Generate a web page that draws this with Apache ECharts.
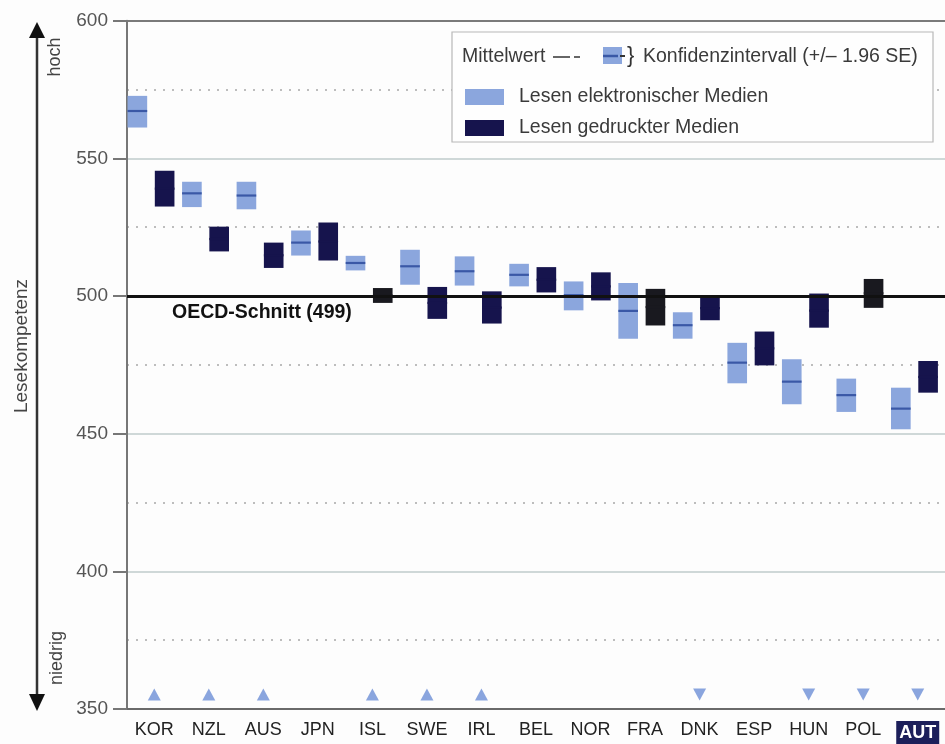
<!DOCTYPE html>
<html>
<head>
<meta charset="utf-8">
<script src="https://cdn.jsdelivr.net/npm/echarts@6/dist/echarts.min.js"></script>
<style>
html,body{margin:0;padding:0;background:#fdfdfd;}
#chart{width:945px;height:744px;}
</style>
</head>
<body>
<div id="chart"></div>
<script>
// ---- data ----
const categories = ['KOR','NZL','AUS','JPN','ISL','SWE','IRL','BEL','NOR','FRA','DNK','ESP','HUN','POL','AUT'];
// Lesen elektronischer Medien: mean and 95% CI bounds
const elecMean = [567.2,537.3,536.5,519.4,512.0,510.8,509.0,507.7,500.3,494.6,489.4,475.8,468.9,464.0,459.1];
const elecLow  = [561.2,532.3,531.5,514.7,509.3,504.1,503.8,503.5,494.8,484.5,484.5,468.3,460.7,457.9,451.6];
const elecHigh = [572.7,541.5,541.5,523.8,514.6,516.8,514.4,511.7,505.3,504.7,494.1,483.0,477.0,470.0,466.7];
// Lesen gedruckter Medien: mean and 95% CI bounds
const printMean = [539.0,520.7,514.8,519.8,500.2,497.5,495.8,505.9,503.5,496.0,495.6,481.0,494.7,501.0,470.6];
const printLow  = [532.5,516.2,510.2,512.9,497.5,491.7,490.0,501.3,498.4,489.3,491.2,474.8,488.5,495.7,464.9];
const printHigh = [545.5,525.2,519.4,526.7,502.9,503.3,501.7,510.5,508.6,502.6,500.1,487.1,500.9,506.2,476.4];
// significance markers: 'up' = electronic significantly above print, 'down' = below
const signif = ['up','up','up','','up','up','up','','','','down','','down','down','down'];
const oecdMean = 499;
const yTicks = [350,400,450,500,550,600];

// ---- styles ----
const FONT = 'Liberation Sans, Arial, Helvetica, sans-serif';
const LIGHT = '#8ba6dd';
const LIGHT_MEAN = '#3a58a6';
const DARK = '#16144d';
const BLACKISH = '#19191f';
const blackPrint = {ISL:true, FRA:true, POL:true};

function boxRender(kind) {
  return function (params, api) {
    const idx = api.value(0);
    const pLo = api.coord([idx, api.value(1)]);
    const pHi = api.coord([idx, api.value(2)]);
    const pMean = api.coord([idx, api.value(3)]);
    const band = api.size([1, 0])[0];
    const w = band * 0.36;
    const x0 = pLo[0] - band / 2 + (kind === 'elec' ? band * 0.01 : band * 0.51);
    const children = [];
    let fill = LIGHT;
    if (kind === 'print') fill = blackPrint[categories[idx]] ? BLACKISH : DARK;
    children.push({
      type: 'rect',
      shape: {x: x0, y: pHi[1], width: w, height: pLo[1] - pHi[1]},
      style: {fill: fill}
    });
    children.push({
      type: 'line',
      shape: {x1: x0, y1: pMean[1], x2: x0 + w, y2: pMean[1]},
      style: {stroke: kind === 'elec' ? LIGHT_MEAN : fill, lineWidth: 2.2}
    });
    return {type: 'group', children: children};
  };
}

const elecData = categories.map((c, i) => [i, elecLow[i], elecHigh[i], elecMean[i]]);
const printData = categories.map((c, i) => [i, printLow[i], printHigh[i], printMean[i]]);
const markerLevel = 355.3;
const markerData = [];
signif.forEach((s, i) => {
  if (s) markerData.push({value: [i, markerLevel], symbolRotate: s === 'down' ? 180 : 0});
});

const chart = echarts.init(document.getElementById('chart'), null, {renderer: 'canvas'});
chart.setOption({
  backgroundColor: '#fdfdfd',
  animation: false,
  textStyle: {fontFamily: FONT},
  grid: {left: 127, top: 20.7, width: 825, height: 690},
  legend: {
    orient: 'vertical',
    left: 460, top: 82,
    itemWidth: 39, itemHeight: 16, itemGap: 11,
    icon: 'rect',
    textStyle: {fontSize: 19.5, color: '#3a3a3a', fontFamily: FONT, padding: [0,0,0,10]},
    data: ['Lesen elektronischer Medien', 'Lesen gedruckter Medien'],
    z: 20
  },
  xAxis: {
    type: 'category',
    data: categories,
    axisLine: {show: true, lineStyle: {color: '#6a6a6a', width: 2}},
    axisTick: {show: false},
    splitLine: {show: false},
    axisLabel: {
      interval: 0,
      fontSize: 18, color: '#222', margin: 12, fontFamily: FONT,
      formatter: function (v) { return v === 'AUT' ? '{hl|' + v + '}' : v; },
      rich: {hl: {backgroundColor: '#1c1f5a', color: '#fff', fontWeight: 'bold', fontSize: 18, padding: [3, 3, 2, 3]}}
    }
  },
  yAxis: {
    type: 'value',
    min: 350, max: 600, interval: 50,
    axisLine: {show: true, lineStyle: {color: '#777', width: 2}},
    axisTick: {show: true, length: 14, lineStyle: {color: '#777', width: 2}},
    axisLabel: {fontSize: 19, color: '#555', margin: 19, fontFamily: FONT},
    splitLine: {show: true, lineStyle: {color: ['#cfd8d8','#cfd8d8','#cfd8d8','#cfd8d8','#cfd8d8','#7a7a7a'], width: 2}},
    minorTick: {show: false, splitNumber: 2},
    minorSplitLine: {show: true, lineStyle: {color: '#a8a8a8', width: 1.5, type: [2, 7]}}
  },
  series: [
    {
      name: 'OECD',
      type: 'line',
      data: [],
      z: 1,
      markLine: {
        silent: true, symbol: 'none',
        lineStyle: {color: '#111', width: 3, type: 'solid'},
        label: {show: false},
        data: [{yAxis: 500}]
      }
    },
    {
      name: 'Lesen elektronischer Medien',
      type: 'custom',
      renderItem: boxRender('elec'),
      itemStyle: {color: LIGHT},
      data: elecData,
      z: 3
    },
    {
      name: 'Lesen gedruckter Medien',
      type: 'custom',
      renderItem: boxRender('print'),
      itemStyle: {color: DARK},
      data: printData,
      z: 3
    },
    {
      name: 'Signifikanz',
      type: 'scatter',
      symbol: 'triangle',
      symbolSize: [13, 12],
      itemStyle: {color: '#6d8ed6'},
      data: markerData,
      z: 4
    }
  ],
  graphic: [
    // legend frame
    {type: 'rect', z: 10, shape: {x: 452, y: 32, width: 481, height: 110},
     style: {fill: '#fefefe', stroke: '#b8b8b8', lineWidth: 1.2}},
    {type: 'text', z: 11, x: 462, y: 57,
     style: {text: 'Mittelwert', fontSize: 19.5, fill: '#3a3a3a', fontFamily: FONT, textVerticalAlign: 'middle'}},
    {type: 'line', z: 11, shape: {x1: 553, y1: 57, x2: 570, y2: 57}, style: {stroke: '#333', lineWidth: 1.5}},
    {type: 'line', z: 11, shape: {x1: 574, y1: 57, x2: 580, y2: 57}, style: {stroke: '#333', lineWidth: 1.5}},
    {type: 'rect', z: 11, shape: {x: 603, y: 47, width: 19, height: 17}, style: {fill: LIGHT}},
    {type: 'line', z: 12, shape: {x1: 603, y1: 56, x2: 618, y2: 56}, style: {stroke: LIGHT_MEAN, lineWidth: 2.5}},
    {type: 'line', z: 12, shape: {x1: 620, y1: 56, x2: 625, y2: 56}, style: {stroke: '#333', lineWidth: 2}},
    {type: 'text', z: 11, x: 627, y: 56,
     style: {text: '}', fontSize: 22, fill: '#333', fontFamily: FONT, textVerticalAlign: 'middle'}},
    {type: 'text', z: 11, x: 643, y: 57,
     style: {text: 'Konfidenzintervall (+/\u2013 1.96 SE)', fontSize: 19.5, fill: '#3a3a3a', fontFamily: FONT, textVerticalAlign: 'middle'}},
    // OECD label
    {type: 'text', z: 5, x: 172, y: 313,
     style: {text: 'OECD-Schnitt (' + oecdMean + ')', fontSize: 19.5, fontWeight: 'bold', fill: '#111', fontFamily: FONT, textVerticalAlign: 'middle'}},
    // left arrow
    {type: 'line', shape: {x1: 37, y1: 34, x2: 37, y2: 698}, style: {stroke: '#333', lineWidth: 2.5}},
    {type: 'polygon', shape: {points: [[29, 38], [37, 22], [45, 38]]}, style: {fill: '#111'}},
    {type: 'polygon', shape: {points: [[29, 694], [37, 711], [45, 694]]}, style: {fill: '#111'}},
    {type: 'text', x: 55, y: 57, rotation: Math.PI / 2,
     style: {text: 'hoch', fontSize: 18, fill: '#444', fontFamily: FONT, textAlign: 'center', textVerticalAlign: 'middle'}},
    {type: 'text', x: 57, y: 658, rotation: Math.PI / 2,
     style: {text: 'niedrig', fontSize: 18, fill: '#444', fontFamily: FONT, textAlign: 'center', textVerticalAlign: 'middle'}},
    {type: 'text', x: 22, y: 346, rotation: Math.PI / 2,
     style: {text: 'Lesekompetenz', fontSize: 19, fill: '#444', fontFamily: FONT, textAlign: 'center', textVerticalAlign: 'middle'}}
  ]
});
</script>
</body>
</html>
